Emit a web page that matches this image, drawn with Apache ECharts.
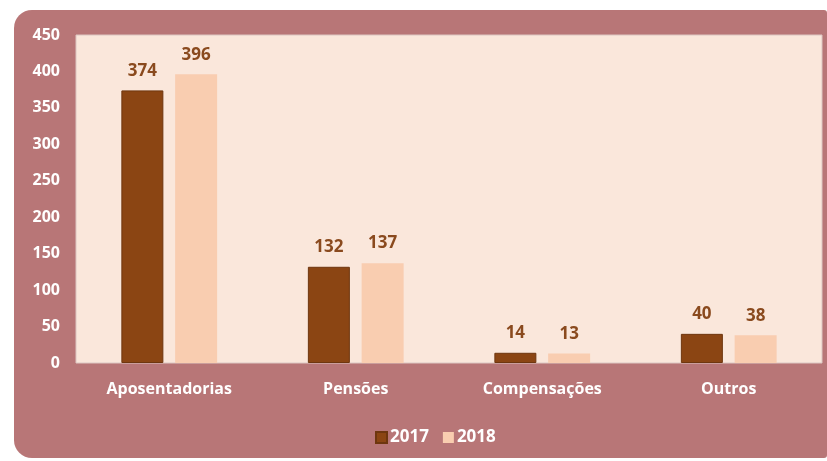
<!DOCTYPE html>
<html>
<head>
<meta charset="utf-8">
<script src="https://cdn.jsdelivr.net/npm/echarts@6/dist/echarts.min.js"></script>
<style>
  html, body { margin: 0; padding: 0; background: #ffffff; }
  #chart { width: 827px; height: 461px; }
</style>
</head>
<body>
<div id="chart"></div>
<script>
// Benefit categories and yearly totals
const categories = ['Aposentadorias', 'Pensões', 'Compensações', 'Outros'];
const values2017 = [374, 132, 14, 40];
const values2018 = [396, 137, 13, 38];
const yTicks = { min: 0, max: 450, interval: 50 };

const chart = echarts.init(document.getElementById('chart'));
const font = '"Open Sans", "Noto Sans", sans-serif';

const labelStyle = {
  show: true,
  position: 'top',
  distance: 11,
  color: '#8a4a1e',
  fontWeight: 'bold',
  fontSize: 17,
  fontFamily: font
};

chart.setOption({
  backgroundColor: '#ffffff',
  animation: false,
  graphic: [{
    type: 'rect',
    z: -10,
    silent: true,
    shape: { x: 14, y: 10, width: 813, height: 448, r: [18, 3, 3, 18] },
    style: { fill: '#b87677' }
  }],
  grid: {
    left: 76, top: 35, right: 5, bottom: 98,
    show: true,
    backgroundColor: '#fae7db',
    borderColor: '#dcc6c2',
    borderWidth: 1
  },
  legend: {
    top: 424,
    left: 370,
    itemWidth: 11,
    itemHeight: 11,
    itemGap: 14,
    icon: 'rect',
    textStyle: { color: '#ffffff', fontWeight: 'bold', fontSize: 17, fontFamily: font, padding: [0, 0, 0, -2] },
    data: ['2017', '2018']
  },
  xAxis: {
    type: 'category',
    data: categories,
    axisLine: { show: false },
    axisTick: { show: false },
    axisLabel: { color: '#ffffff', fontWeight: 'bold', fontSize: 16, fontFamily: font, margin: 18 }
  },
  yAxis: {
    type: 'value',
    min: yTicks.min,
    max: yTicks.max,
    interval: yTicks.interval,
    splitLine: { show: false },
    axisLine: { show: false },
    axisTick: { show: false },
    axisLabel: { color: '#ffffff', fontWeight: 'bold', fontSize: 16, fontFamily: font, margin: 16 }
  },
  series: [{
    name: '2017',
    type: 'bar',
    data: values2017,
    barWidth: 42,
    barGap: '28%',
    itemStyle: { color: '#8b4513', borderColor: '#6e360f', borderWidth: 1 },
    label: labelStyle
  }, {
    name: '2018',
    type: 'bar',
    data: values2018,
    barWidth: 42,
    itemStyle: { color: '#f9cdb0' },
    label: labelStyle
  }]
});
</script>
</body>
</html>
